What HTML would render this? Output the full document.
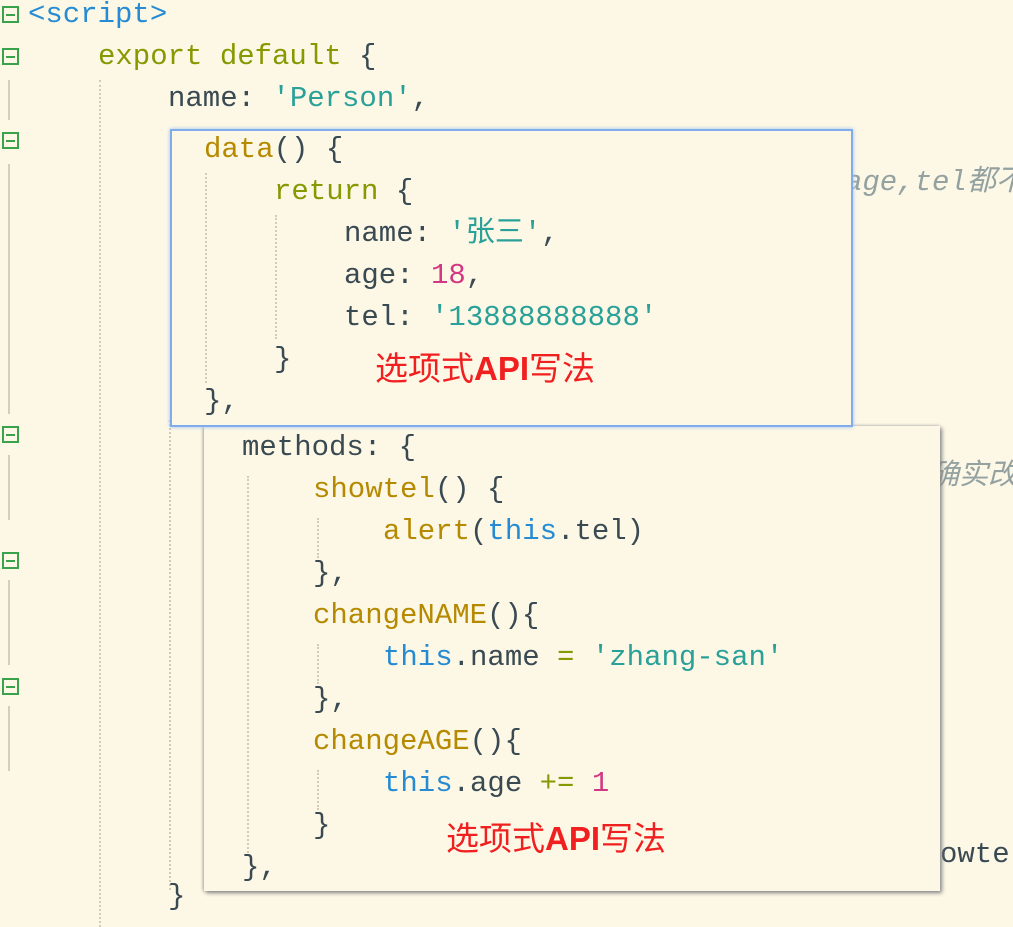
<!DOCTYPE html>
<html><head><meta charset="utf-8"><style>
html,body{margin:0;padding:0}
body{width:1013px;height:927px;background:#fdf8e6;position:relative;overflow:hidden;font-family:"Liberation Mono","Noto Sans CJK SC",monospace;font-size:29px;color:#3a4a52}
.l{position:absolute;height:42px;line-height:42px;white-space:pre}
.k{color:#859900}.b{color:#268bd2}.s{color:#2aa198}.n{color:#d33682}.f{color:#b58900}
.c{color:#93a1a1;font-style:italic}
.fold{position:absolute;left:2px;width:17px;height:17px;border:2px solid #3aa24a;box-sizing:border-box}
.fold:after{content:"";position:absolute;left:2px;right:2px;top:5.5px;height:2px;background:#3aa24a}
.gl{position:absolute;left:8px;width:2px;background:#d4cfb8}
.dg{position:absolute;border-left:2px dotted #d0ccb8;width:0}
.red{position:absolute;color:#f02020;font-family:"Liberation Sans","Noto Sans CJK SC",sans-serif;font-size:33px;line-height:38px;white-space:pre}
.red b{font-weight:bold}
.box1{position:absolute;left:170px;top:129px;width:683px;height:298px;background:#fdf8e6;border:2px solid #80acec;box-sizing:border-box;box-shadow:0 0 4px #9bbff0;z-index:3}
.box2{position:absolute;left:204px;top:426px;width:736px;height:465px;background:#fdf8e6;box-shadow:2px 2px 4px #888, -1px 0 3px #aaa;z-index:2}
</style></head><body>
<div class="fold" style="top:6px"></div>
<div class="fold" style="top:48px"></div>
<div class="fold" style="top:132px"></div>
<div class="fold" style="top:426px"></div>
<div class="fold" style="top:552px"></div>
<div class="fold" style="top:678px"></div>
<div class="gl" style="top:80px;height:40px"></div>
<div class="gl" style="top:164px;height:250px"></div>
<div class="gl" style="top:455px;height:65px"></div>
<div class="gl" style="top:580px;height:85px"></div>
<div class="gl" style="top:706px;height:65px"></div>
<div class="dg" style="left:99px;top:80px;height:847px"></div>
<div class="dg" style="left:169px;top:420px;height:470px"></div>

<div class="l b" style="left:28px;top:-6px">&lt;script&gt;</div>
<div class="l" style="left:98px;top:36px"><span class="k">export default</span> {</div>
<div class="l" style="left:168px;top:78px">name: <span class="s">'Person'</span>,</div>
<div class="l c" style="left:845px;top:162px">age,tel都不</div>
<div class="l c" style="left:930px;top:456px">确实改</div>
<div class="l" style="left:940px;top:834px">owte</div>
<div class="l" style="left:168px;top:876px">}</div>

<div class="box1">
<div class="dg" style="left:33px;top:42px;height:210px"></div>
<div class="dg" style="left:103px;top:84px;height:124px"></div>
<div class="l" style="left:32px;top:-2px"><span class="f">data</span>() {</div>
<div class="l" style="left:102px;top:40px"><span class="k">return</span> {</div>
<div class="l" style="left:172px;top:82px">name: <span class="s">'张三'</span>,</div>
<div class="l" style="left:172px;top:124px">age: <span class="n">18</span>,</div>
<div class="l" style="left:172px;top:166px">tel: <span class="s">'13888888888'</span></div>
<div class="l" style="left:102px;top:208px">}</div>
<div class="l" style="left:32px;top:250px">},</div>
<div class="red" style="left:203px;top:219px">选项式<b>API</b>写法</div>
</div>

<div class="box2">
<div class="dg" style="left:43px;top:50px;height:380px"></div>
<div class="dg" style="left:113px;top:92px;height:40px"></div>
<div class="dg" style="left:113px;top:218px;height:40px"></div>
<div class="dg" style="left:113px;top:344px;height:40px"></div>
<div class="l" style="left:38px;top:1px">methods: {</div>
<div class="l" style="left:109px;top:43px"><span class="f">showtel</span>() {</div>
<div class="l" style="left:179px;top:85px"><span class="f">alert</span>(<span class="b">this</span>.tel)</div>
<div class="l" style="left:109px;top:127px">},</div>
<div class="l" style="left:109px;top:169px"><span class="f">changeNAME</span>(){</div>
<div class="l" style="left:179px;top:211px"><span class="b">this</span>.name <span class="k">=</span> <span class="s">'zhang-san'</span></div>
<div class="l" style="left:109px;top:253px">},</div>
<div class="l" style="left:109px;top:295px"><span class="f">changeAGE</span>(){</div>
<div class="l" style="left:179px;top:337px"><span class="b">this</span>.age <span class="k">+=</span> <span class="n">1</span></div>
<div class="l" style="left:109px;top:379px">}</div>
<div class="l" style="left:38px;top:421px">},</div>
<div class="red" style="left:242px;top:394px">选项式<b>API</b>写法</div>
</div>
</body></html>
